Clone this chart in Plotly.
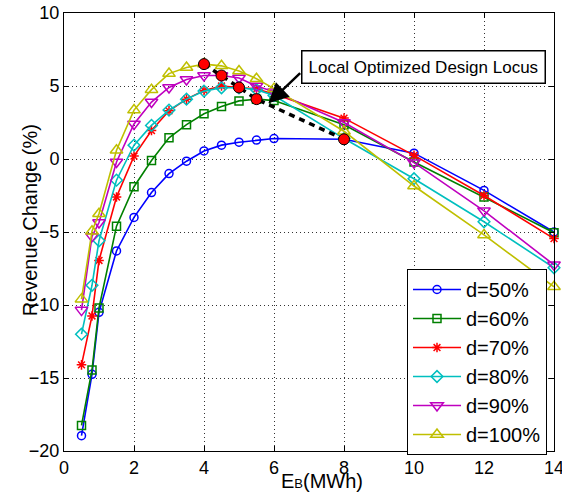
import plotly.graph_objects as go

# ---- data ----
eb = [0.5, 0.8, 1, 1.5, 2, 2.5, 3, 3.5, 4, 4.5, 5, 5.5, 6, 8, 10, 12, 14]

d50 = [-18.95, -14.75, -10.5, -6.3, -4.0, -2.3, -1.0, -0.15, 0.55, 0.95, 1.15, 1.3, 1.4, 1.35, 0.4, -2.15, -5.0]
d60 = [-18.25, -14.45, -10.2, -4.6, -1.9, -0.1, 1.45, 2.35, 3.1, 3.6, 3.98, 4.1, 4.0, 2.35, -0.2, -2.6, -5.05]
d70 = [-14.1, -10.75, -6.95, -2.6, 0.2, 1.95, 3.3, 4.1, 4.7, 5.0, 4.9, 4.8, 4.45, 2.8, 0.25, -2.5, -5.45]
d80 = [-12.0, -8.65, -5.6, -1.45, 0.95, 2.3, 3.35, 4.1, 4.65, 4.88, 4.88, 4.75, 4.35, 1.4, -1.35, -4.3, -7.45]
d90 = [-10.35, -5.3, -4.35, -0.2, 2.4, 3.9, 4.9, 5.45, 5.72, 5.72, 5.55, 5.0, 4.6, 2.5, -0.25, -3.55, -7.25]
d100 = [-9.6, -4.95, -3.75, 0.6, 3.35, 4.75, 5.85, 6.27, 6.5, 6.38, 6.03, 5.5, 4.82, 1.9, -1.85, -5.2, -8.75]

series_names = ["d=50%", "d=60%", "d=70%", "d=80%", "d=90%", "d=100%"]
series_vals = [d50, d60, d70, d80, d90, d100]

locus_x = [4, 4.5, 5, 5.5, 8]
locus_y = [6.5, 5.72, 4.9, 4.1, 1.35]

x_ticks = [0, 2, 4, 6, 8, 10, 12, 14]
y_ticks = [-20, -15, -10, -5, 0, 5, 10]

# ---- styles ----
colors = ["#0000FF", "#008000", "#FF0000", "#00BFBF", "#BF00BF", "#BFBF00"]
symbols = ["circle-open", "square-open", "asterisk-open", "diamond-open",
           "triangle-down-open", "triangle-up-open"]
sizes = [8, 8, 8, 9, 11, 11]
FONT = "Liberation Sans, Arial, sans-serif"

fig = go.Figure()
for name, vals, c, s, sz in zip(series_names, series_vals, colors, symbols, sizes):
    fig.add_trace(go.Scatter(
        x=eb, y=vals, mode="lines+markers", name=name,
        line=dict(color=c, width=1.6),
        marker=dict(symbol=s, size=sz, color=c, line=dict(color=c, width=1.5)),
        cliponaxis=False,
    ))

fig.add_trace(go.Scatter(
    x=locus_x, y=locus_y, mode="lines", showlegend=False,
    line=dict(color="black", width=3.5, dash="6px,5px"),
))
fig.add_trace(go.Scatter(
    x=locus_x, y=locus_y, mode="markers", showlegend=False,
    marker=dict(symbol="circle", size=11, color="#FF0000",
                line=dict(color="black", width=1)),
))

axis_common = dict(
    showline=True, linecolor="black", linewidth=1, mirror="ticks",
    ticks="inside", ticklen=5, tickcolor="black", tickwidth=1,
    showgrid=True, gridcolor="#333333", gridwidth=1, griddash="1px,3px",
    zeroline=False, tickfont=dict(family=FONT, size=18, color="black"),
    automargin=False, ticklabeloverflow="allow",
)

fig.update_xaxes(range=[0, 14], tickvals=x_ticks, **axis_common)
fig.update_yaxes(range=[-20, 10], tickvals=y_ticks, **axis_common)

fig.update_layout(
    width=562, height=494,
    margin=dict(l=64, r=8, t=13, b=43),
    plot_bgcolor="white", paper_bgcolor="white",
    font=dict(family=FONT, color="black"),
    legend=dict(
        x=0.70, y=0.4155, xanchor="left", yanchor="top",
        bgcolor="white", bordercolor="black", borderwidth=1,
        font=dict(family=FONT, size=20, color="black"),
        tracegroupgap=0, itemwidth=48,
    ),
    annotations=[
        dict(text="Revenue Change (%)", textangle=-90, xref="paper", yref="paper",
             x=-0.069, y=0.527, showarrow=False, xanchor="center", yanchor="middle",
             font=dict(family=FONT, size=20, color="black")),
        dict(text='E<span style="font-size:13px">B</span>(MWh)', xref="paper", yref="paper",
             x=0.5265, y=-0.0695, showarrow=False, xanchor="center", yanchor="middle",
             font=dict(family=FONT, size=20, color="black")),
        dict(text="Local Optimized Design Locus", xref="x", yref="y",
             x=10.26, y=6.27, showarrow=False, xanchor="center", yanchor="middle",
             bgcolor="white", bordercolor="black", borderwidth=1.5, borderpad=6,
             font=dict(family=FONT, size=17, color="black")),
        dict(text="", xref="x", yref="y", x=5.84, y=3.81,
             axref="x", ayref="y", ax=6.79, ay=5.98, showarrow=True,
             arrowhead=2, arrowsize=1.6, arrowwidth=2.5, arrowcolor="black",
             standoff=0, startstandoff=0),
    ],
)

fig.write_html("out.html",
               config={"displayModeBar": False},
               post_script="document.body.style.margin='0';document.body.style.padding='0';")
